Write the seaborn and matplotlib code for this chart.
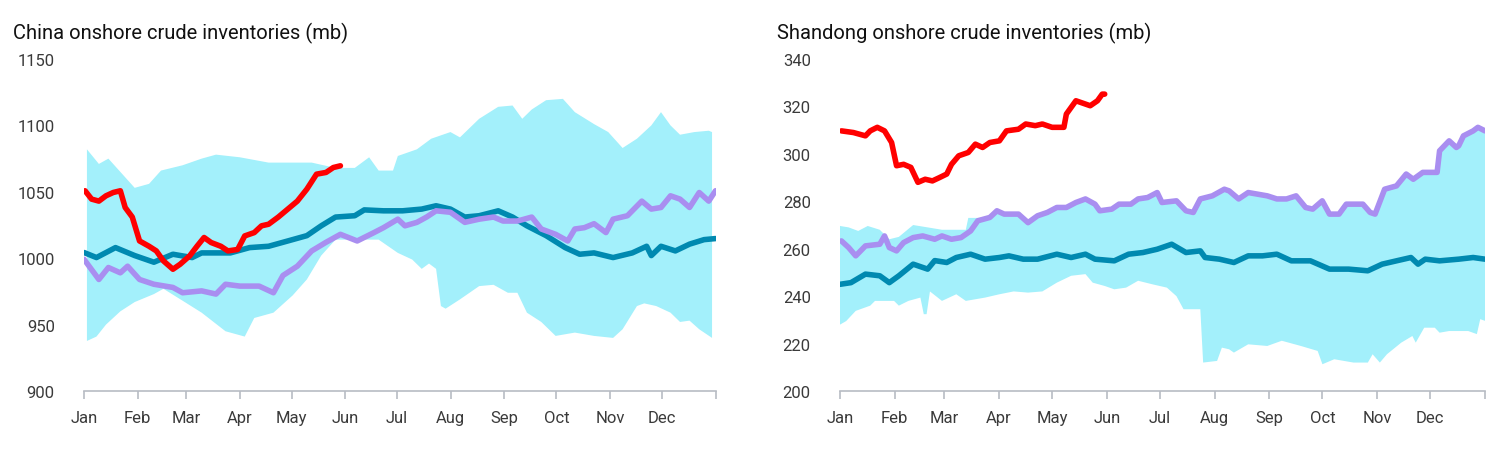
import numpy as np
import pandas as pd
import seaborn as sns
import matplotlib
matplotlib.use('Agg')
import matplotlib.pyplot as plt

# day of year (0 = 1 Jan) and values

# China onshore crude inventories (mb)
china_upper_day = [1.7, 8.6, 14.1, 29.3, 37.6, 44.5, 57, 68, 76.3, 90.1, 106.7, 131.6, 145.4, 156.5,
                   164.8, 170.3, 178.6, 181.4, 192.4, 200.7, 211.8, 217.3, 228.4, 239.4, 247.7, 253.3,
                   258.8, 267.1, 276.8, 283.7, 294.8, 303, 311.3, 319.6, 327.9, 333.5, 339, 344.5,
                   352.8, 361.1, 363]
china_upper = [1082, 1071, 1075, 1053, 1056, 1066, 1070, 1075, 1078, 1076, 1072, 1072, 1068, 1068,
               1076, 1066, 1066, 1077, 1082, 1090, 1095, 1091, 1105, 1114, 1115, 1105,
               1112, 1119, 1120, 1110, 1101, 1095, 1083, 1090, 1100, 1110, 1100, 1093,
               1095, 1096, 1095]
china_lower_day = [1.7, 7.2, 12.7, 21, 29.3, 40.4, 45.9, 57, 68, 81.8, 92.9, 98.4, 109.5, 120.6,
                   128.8, 137.1, 145.4, 156.5, 170.3, 181.4, 189.7, 195.2, 199.4, 203.5, 206.3, 209,
                   217.3, 228.4, 236.7, 245, 250.5, 256, 264.3, 272.6, 283.7, 294.8, 305.8, 311.3,
                   319.6, 323.8, 330.7, 339, 344.5, 350, 355.6, 363]
china_lower = [937.7, 941, 950, 960, 967, 973, 977, 968, 959, 945, 941, 955, 959, 972,
               984, 1002, 1014, 1014, 1014, 1004, 999, 992, 996, 992, 964, 962,
               969, 979, 980, 974, 974, 959, 952, 941.5, 944, 941.5, 940, 946.5,
               964, 966, 964, 959, 952, 953, 946.5, 940]
china_avg_day = [0, 7.2, 18.2, 29.3, 40.4, 51.4, 62.5, 68, 84.6, 95.7, 106.7, 117.8, 128.8, 137.1,
                 145.4, 156.5, 162, 173.1, 184.1, 195.2, 203.5, 211.8, 220.1, 228.4, 239.4, 247.7,
                 256, 267.1, 278.1, 286.5, 294.8, 305.8, 316.9, 325.2, 327.9, 333.5, 341.8, 350,
                 358.4, 365]
china_avg = [1004.3, 1000.5, 1008, 1002, 997, 1003, 1000.5, 1004, 1004, 1008, 1009, 1013, 1017, 1024.4,
             1031, 1032, 1036.4, 1035.7, 1035.7, 1037, 1039.5, 1037, 1031, 1032, 1035.7, 1031,
             1024.4, 1017, 1008, 1003, 1004, 1000.5, 1004, 1009, 1002, 1009, 1005.5, 1010.6,
             1014, 1014.8]
china_prev_day = [0, 8.6, 14.1, 21, 25.2, 32.1, 40.4, 51.4, 57, 68, 76.3, 81.8, 90.1, 101.2, 109.5,
                  115, 123.3, 131.6, 139.9, 148.2, 157.9, 167.6, 173.1, 181.4, 185.5, 192.4, 198,
                  203.5, 211.8, 220.1, 228.4, 236.7, 242.2, 250.5, 258.8, 264.3, 272.6, 279.6, 283.7,
                  289.2, 294.8, 301.7, 305.8, 314.1, 322.4, 327.9, 333.5, 339, 344.5, 350, 355.6,
                  361.1, 365]
china_prev = [999.2, 984, 993, 989, 994, 984, 980.4, 978, 974, 975.4, 973, 980.4, 979, 979, 974,
              987, 994, 1005.5, 1012, 1018, 1013, 1019.3, 1023, 1029.4, 1024.4, 1027, 1031,
              1035.7, 1034.6, 1027, 1029.4, 1031, 1028, 1028, 1031, 1022, 1018, 1013, 1022,
              1023, 1026, 1019.3, 1029.4, 1032, 1043, 1037, 1038.2, 1047, 1044.5, 1038.2, 1049.5,
              1043, 1050.8]
china_cur_day = [0.6, 4.4, 8.6, 12.7, 16.9, 21, 23.8, 27.9, 32.1, 37.6, 41.8, 45.9, 51.4, 55.6, 61.1,
                 65.3, 69.4, 73.5, 79.1, 83.2, 88.8, 92.9, 98.4, 102.6, 106.7, 112.3, 117.8, 123.3,
                 128.8, 134.4, 139.9, 144.1, 148.2]
china_cur = [1050.8, 1044.5, 1043, 1047, 1049.5, 1050.8, 1038.2, 1031, 1013, 1009, 1005.5, 998, 991.7,
             995.5, 1001.8, 1009, 1015.6, 1011.8, 1009, 1005.5, 1006.6, 1016.8, 1019.3, 1024.4,
             1025.6, 1031, 1037, 1043, 1052, 1063.3, 1064.6, 1068.3, 1069.6]

# Shandong onshore crude inventories (mb)
shandong_upper_early_day = [0, 4.9, 10.3, 15.7, 22.5, 27.9, 33.3, 41.4, 49.6, 57.7, 65.8, 71.2, 72.6, 79.3]
shandong_upper_early = [269.6, 269, 267.5, 269.6, 268, 264, 265, 270, 269, 268, 268, 268, 273, 273]
shandong_lower_day = [0, 3.5, 8.9, 17.1, 19.8, 30.6, 33.3, 38.7, 45.5, 47.4, 49, 50.9, 57.7, 65.8,
                      71.2, 82.1, 90.2, 98.3, 106.4, 114.5, 122.7, 130.8, 138.9, 143, 149.8, 155.2,
                      161.9, 168.7, 176.8, 185, 190.4, 194.4, 203.9, 205.5, 213.4, 216.1, 220.2, 222.9,
                      231, 241.8, 250, 260.8, 270.3, 273, 279.7, 290.6, 298.7, 301.4, 305.5, 309.5,
                      317.6, 323.9, 325.8, 330.6, 336.6, 339.3, 344.7, 355.5, 360.4, 362.3, 365]
shandong_lower = [228, 229.5, 233.8, 236, 238, 238, 236, 238, 239.4, 232.4, 232.4, 242, 238, 240.8,
                  238, 239.4, 240.8, 242, 241.5, 242, 245.7, 248.6, 249.3, 245.7, 244.3, 242.9,
                  243.6, 246.5, 245, 243.6, 240, 234.5, 234.5, 212, 212.7, 218.3, 217.6, 216.2,
                  219.7, 219, 221.2, 219, 216.9, 211.3, 213.4, 212, 212, 215.5, 212, 215.5,
                  220.4, 223.2, 220.4, 226.7, 226.7, 224.6, 225.3, 225.3, 224, 230.3, 229.6]
shandong_avg_day = [0, 6.2, 14.4, 22.5, 27.9, 33.3, 41.4, 49.6, 53.6, 60.4, 65.8, 73.9, 82.1, 90.2,
                    95.6, 103.7, 111.8, 122.7, 130.8, 138.9, 144.3, 155.2, 163.3, 171.4, 179.5, 187.7,
                    195.8, 203.9, 206.6, 214.7, 222.9, 231, 239.1, 247.2, 255.4, 266.2, 277, 287.8,
                    298.7, 306.8, 314.9, 323.1, 327.1, 331.2, 339.3, 350.1, 358.3, 365]
shandong_avg = [245, 245.7, 249.3, 248.6, 245.7, 248.6, 253.5, 251.4, 255, 254.2, 256.3, 257.7, 255.6, 256.3,
                257, 255.6, 255.6, 257.7, 256.3, 257.7, 255.6, 254.9, 257.7, 258.4, 259.8, 261.9,
                258.4, 259.1, 256.3, 255.6, 254.2, 257, 257, 257.7, 254.9, 254.9, 251.4, 251.4,
                250.7, 253.5, 254.9, 256.3, 253.5, 255.6, 254.9, 255.6, 256.3, 255.6]
shandong_prev_day = [0.8, 4.9, 8.9, 14.4, 22.5, 25.2, 27.9, 32, 36, 41.4, 46.8, 53.6, 57.7, 63.1, 68.5,
                     73.9, 78, 84.8, 88.8, 92.9, 101, 106.4, 111.8, 117.3, 122.7, 128.1, 133.5, 138.9,
                     144.3, 147, 153.8, 157.9, 164.6, 168.7, 174.1, 179.5, 182.2, 190.4, 195.8, 199.9,
                     203.9, 210.7, 217.5, 220.2, 225.6, 231, 236.4, 241.8, 247.2, 252.7, 258.1, 263.5,
                     267.5, 272.9, 277, 282.4, 286.5, 295.9, 300, 302.8, 308.2, 314.9, 320.4, 324.4,
                     329.8, 337.9, 339.3, 344.7, 348.8, 350.1, 352.8, 358.3, 361, 365]
shandong_prev = [263.3, 260.5, 257, 261.2, 261.9, 265.4, 260.5, 259.1, 262.6, 264.7, 265.4, 264, 265.4, 264, 264.7,
                 267.5, 271.8, 273.2, 276, 274.6, 274.6, 271, 273.9, 275.3, 277.4, 277.4, 279.5, 281,
                 278.8, 276, 276.7, 278.8, 278.8, 281, 281.6, 283.7, 279.5, 280.2, 276, 275.3,
                 281, 282.3, 285.1, 284.4, 281, 283.7, 283, 282.3, 281, 281, 282.3, 277.4,
                 276.7, 280.2, 274.6, 274.6, 278.8, 278.8, 275.3, 274.6, 285.1, 286.5, 291.5, 289.3,
                 292.2, 292.2, 301.3, 305.5, 302.7, 303.4, 307.6, 309.7, 311.2, 309.7]
shandong_cur_day = [0.8, 7.6, 14.4, 17.1, 21.1, 25.2, 29.2, 32, 36, 40.1, 44.1, 48.2, 52.3, 56.3, 60.4,
                    63.1, 67.2, 72.6, 76.6, 80.7, 84.8, 90.2, 94.2, 101, 105.1, 110.5, 114.5, 120,
                    126.7, 128.1, 133.5, 138.9, 141.6, 145.7, 148.4, 149.8]
shandong_cur = [309.7, 309, 307.6, 309.7, 311.2, 309.7, 304.8, 295, 295.6, 294.3, 288, 289.3, 288.6, 290, 291.5,
                295.6, 299.2, 300.6, 304.1, 302.7, 304.8, 305.5, 309.7, 310.4, 312.6, 311.9, 312.6, 311.2,
                311.2, 316.8, 322.4, 321, 320.3, 322.4, 325.2, 325.2]

month_starts = [0, 31, 59, 90, 120, 151, 181, 212, 243, 273, 304, 334, 365]
month_labels = ['Jan', 'Feb', 'Mar', 'Apr', 'May', 'Jun', 'Jul', 'Aug', 'Sep', 'Oct', 'Nov', 'Dec', '']

# in Shandong the range top follows last year's line after March
sd_prev_day = np.array(shandong_prev_day)
sd_prev = np.array(shandong_prev)
shandong_upper_day = np.r_[shandong_upper_early_day, sd_prev_day[sd_prev_day > 80]]
shandong_upper = np.r_[shandong_upper_early, sd_prev[sd_prev_day > 80]]

band_color = '#A3F0FB'
avg_color = '#0089B0'
prev_color = '#A98EF0'
cur_color = '#FF0000'

sns.set_theme(style='white')
plt.rcParams['font.family'] = ['Roboto', 'DejaVu Sans']

fig = plt.figure(figsize=(15, 4.52), dpi=100)
ax1 = fig.add_axes([0.056, 0.1327, 0.421, 0.7345])
ax2 = fig.add_axes([0.56, 0.1327, 0.43, 0.7345])

panels = [
    (ax1, china_upper_day, china_upper, china_lower_day, china_lower,
     china_avg_day, china_avg, china_prev_day, china_prev, china_cur_day, china_cur, (900, 1150), 50),
    (ax2, shandong_upper_day, shandong_upper, shandong_lower_day,
     shandong_lower, shandong_avg_day, shandong_avg, shandong_prev_day, shandong_prev, shandong_cur_day,
     shandong_cur, (200, 340), 20),
]

for (ax, ud, uv, ld, lv, ad, av, pd_, pv, cd, cv, ylim, step) in panels:
    # range band as one polygon: top edge forward, bottom edge back
    ax.fill(np.r_[ud, ld[::-1]], np.r_[uv, lv[::-1]], color=band_color, lw=0, zorder=1)
    sns.lineplot(x=ad, y=av, ax=ax, color=avg_color, lw=4, zorder=3)
    sns.lineplot(x=pd_, y=pv, ax=ax, color=prev_color, lw=4, zorder=4)
    sns.lineplot(x=cd, y=cv, ax=ax, color=cur_color, lw=4, zorder=5)

    ax.set_xlim(0, 365)
    ax.set_ylim(*ylim)
    ax.set_yticks(np.arange(ylim[0], ylim[1] + 1, step))
    ax.set_xticks(month_starts)
    ax.set_xticklabels(month_labels)
    ax.set_xlabel('')
    ax.set_ylabel('')
    for s in ['top', 'right', 'left']:
        ax.spines[s].set_visible(False)
    ax.spines['bottom'].set_color('#B8BCC4')
    ax.spines['bottom'].set_linewidth(1.2)
    ax.tick_params(axis='x', bottom=True, length=6, width=1.2, color='#B8BCC4',
                   labelsize=12, labelcolor='#3a3a3a', pad=8)
    ax.tick_params(axis='y', left=False, labelsize=12, labelcolor='#3a3a3a', pad=15)

fig.text(0.009, 0.925, 'China onshore crude inventories (mb)', fontsize=14.5, color='#111111', va='center')
fig.text(0.518, 0.925, 'Shandong onshore crude inventories (mb)', fontsize=14.5, color='#111111', va='center')

fig.savefig('out.png', dpi=100)
